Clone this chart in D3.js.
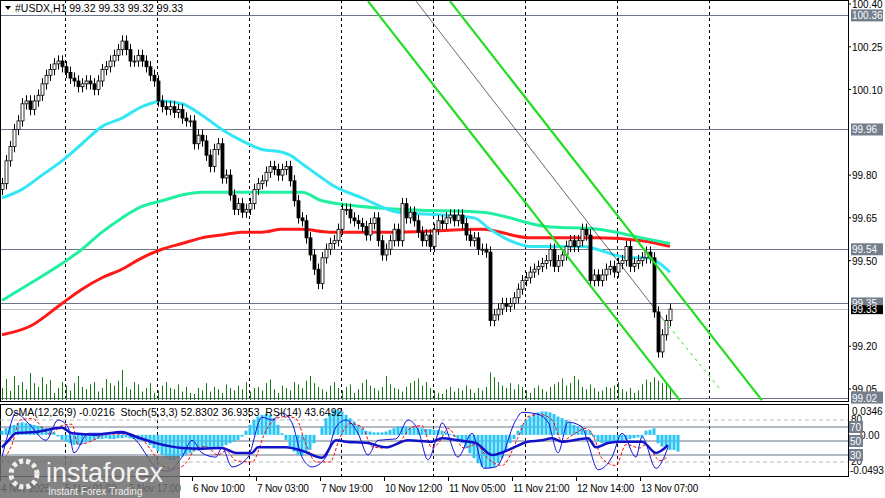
<!DOCTYPE html>
<html><head><meta charset="utf-8">
<script src="https://cdn.jsdelivr.net/npm/d3@7"></script>
<style>
body{margin:0;background:#fff;}
text{font-family:"Liberation Sans",Arial,sans-serif;}
</style></head>
<body><svg id="chart" width="885" height="498"></svg>
<script>
"use strict";

// hourly closes, 4 Nov 09:00 .. 13 Nov 07:00
var closes = [99.77,99.85,99.90,99.96,99.99,100.05,100.06,100.03,100.06,100.08,100.12,100.15,100.17,100.19,100.20,100.18,
  100.16,100.14,100.13,100.11,100.12,100.13,100.12,100.10,100.13,100.17,100.18,100.20,100.22,100.24,100.27,100.24,
  100.20,100.20,100.22,100.20,100.18,100.15,100.13,100.06,100.04,100.03,100.04,100.02,100.03,100.00,99.99,99.99,
  99.91,99.94,99.92,99.87,99.83,99.89,99.91,99.79,99.80,99.73,99.68,99.70,99.67,99.68,99.70,99.75,
  99.77,99.78,99.81,99.83,99.82,99.80,99.82,99.83,99.78,99.71,99.65,99.64,99.58,99.52,99.47,99.42,
  99.51,99.54,99.56,99.57,99.61,99.68,99.68,99.65,99.64,99.63,99.62,99.59,99.63,99.65,99.57,99.52,
  99.54,99.57,99.61,99.57,99.70,99.65,99.67,99.64,99.60,99.57,99.59,99.55,99.61,99.64,99.63,99.65,
  99.66,99.64,99.66,99.63,99.59,99.57,99.58,99.54,99.54,99.53,99.29,99.31,99.33,99.35,99.34,99.35,
  99.37,99.40,99.43,99.44,99.46,99.47,99.48,99.49,99.50,99.54,99.48,99.50,99.52,99.55,99.57,99.55,
  99.57,99.61,99.59,99.43,99.45,99.43,99.45,99.47,99.48,99.46,99.49,99.50,99.55,99.48,99.49,99.50,
  99.51,99.53,99.51,99.32,99.18,99.24,99.29,99.33];

var volumes = [20,35,15,40,25,30,18,45,28,22,38,26,33,12,20,30,24,16,28,40,22,18,26,30,14,20,35,28,24,32,50,22,
  18,30,26,14,20,28,12,16,24,30,20,18,26,14,22,12,10,20,16,28,14,22,18,12,26,20,16,24,18,30,14,20,
  22,16,28,34,18,12,24,20,16,30,26,20,32,40,28,22,18,14,24,30,20,16,22,26,12,18,28,34,24,20,16,22,
  40,26,20,18,14,22,28,32,36,24,30,20,16,12,10,18,22,14,20,16,24,18,12,20,16,22,46,38,30,24,20,28,
  18,26,22,16,12,20,24,18,14,22,26,30,36,24,28,40,34,22,18,26,20,14,16,22,20,24,30,18,14,20,12,16,
  26,34,30,38,32,28,26,22];

// moving averages: [bar, price]
var maFast = [[0,99.72],[5,99.75],[10,99.80],[15,99.85],[20,99.91],[25,99.97],[30,100.00],[35,100.04],[40,100.06],
  [45,100.05],[50,100.01],[55,99.96],[60,99.92],[65,99.89],[70,99.88],[72,99.87],[75,99.84],[80,99.79],[82,99.77],
  [90,99.72],[99,99.67],[110,99.66],[118,99.65],[122,99.61],[127,99.57],[132,99.55],[145,99.55],[157,99.51],[161,99.51],[167,99.46]];
var maMid = [[0,99.36],[7,99.42],[15,99.49],[20,99.54],[25,99.60],[30,99.65],[35,99.69],[40,99.71],[45,99.73],
  [50,99.74],[75,99.74],[80,99.71],[99,99.68],[120,99.67],[136,99.62],[149,99.61],[160,99.58],[167,99.56]];
var maSlow = [[0,99.24],[7,99.27],[15,99.35],[20,99.40],[25,99.44],[30,99.47],[35,99.51],[40,99.54],[45,99.56],
  [50,99.58],[55,99.59],[60,99.60],[65,99.60],[70,99.61],[75,99.61],[82,99.60],[99,99.60],[120,99.61],
  [132,99.58],[149,99.58],[160,99.57],[167,99.55]];

// channel lines: [bar, price] end points
var chanLow = [[91.5,100.41],[169.5,99.01]];
var chanHigh = [[112,100.41],[190,99.01]];
var chanMid = [[103.5,100.41],[165.5,99.29]];
var chanMidExt = [[165.5,99.29],[179.5,99.05]];

var levels = [100.36, 99.96, 99.54, 99.35, 99.02];
var lastPrice = 99.33;
var priceTicks = [100.40, 100.25, 100.10, 99.80, 99.65, 99.50, 99.20, 99.05];

// oscillators (OsMA in 0.001 units per bar; others [half-pixel position, value])
var osma = [5,8,10,12,14,15,14,13,12,11,10,8,6,3,-2,-6,-8,-10,-12,-12,-11,-9,-8,-6,-5,-5,-4,-5,-5,-4,-4,-3,
  -4,-5,-6,-7,-8,-12,-16,-20,-24,-28,-30,-30,-28,-26,-24,-22,-20,-19,-18,-17,-16,-15,-15,-14,-12,-10,-8,-6,-2,5,12,18,
  22,24,25,24,20,12,2,-6,-14,-20,-24,-25,-22,-18,-10,0,10,20,26,30,30,28,24,20,16,12,8,5,4,3,3,3,
  4,6,8,10,10,10,9,9,8,8,7,7,6,6,5,3,1,-2,-6,-10,-16,-22,-28,-34,-38,-40,-40,-38,-34,-28,-20,-10,
  -5,5,12,18,22,25,27,28,28,27,25,22,20,18,15,12,10,8,6,5,-3,-8,-10,-10,-9,-8,-8,-7,-6,-5,-4,-3,
  -3,5,6,8,-10,-14,-16,-18,-18,-20];
var stochMain = [[0,27],[3,60],[7,90],[13,76],[22,51],[28,80],[33,70],[36,33],[43,61],[50,61],[60,61],[67,51],
  [73,27],[78,9],[83,7],[90,27],[95,51],[100,33],[107,27],[110,41],[115,13],[123,27],[130,84],[135,80],[140,90],
  [145,76],[150,27],[155,13],[162,27],[167,70],[172,80],[178,61],[183,30],[188,51],[197,53],[203,80],[208,66],
  [213,23],[218,61],[220,76],[228,27],[235,61],[241,11],[247,13],[257,80],[260,91],[267,89],[273,77],[278,33],
  [283,77],[290,70],[293,47],[298,9],[305,27],[310,61],[317,27],[320,56],[327,11],[333,41]];
var stochSig = [[0,20],[5,45],[9,80],[15,82],[24,60],[30,72],[35,74],[38,45],[45,50],[52,60],[62,60],[69,55],
  [75,35],[80,15],[86,10],[92,18],[97,40],[102,42],[108,30],[112,36],[117,22],[125,20],[132,65],[137,82],[142,85],
  [147,82],[152,45],[157,20],[164,20],[169,55],[174,75],[180,70],[185,42],[190,40],[199,50],[205,70],[210,72],
  [215,40],[219,50],[223,68],[231,40],[237,45],[243,25],[250,15],[258,55],[263,85],[269,88],[275,80],[280,50],
  [286,60],[292,68],[296,55],[300,25],[307,15],[312,45],[319,40],[322,45],[329,22],[333,28]];
var rsi = [[0,41],[3,50],[7,61],[17,63],[30,69],[35,61],[47,59],[60,63],[67,56],[77,47],[90,40],[100,39],
  [110,40],[117,33],[125,33],[128,41],[142,41],[150,36],[160,26],[167,51],[172,49],[183,47],[192,41],[203,51],
  [215,49],[220,54],[228,51],[237,47],[245,30],[253,37],[263,49],[270,51],[275,54],[280,49],[293,54],
  [297,41],[303,47],[310,49],[320,49],[327,33],[333,44]];

var timeLabels = ["4 Nov 2025","5 Nov 01:00","5 Nov 17:00","6 Nov 10:00","7 Nov 03:00","7 Nov 19:00",
  "10 Nov 12:00","11 Nov 05:00","11 Nov 21:00","12 Nov 14:00","13 Nov 07:00"];

var W = 848;
var svg = d3.select("#chart");
var x = d3.scaleLinear().domain([0, 1]).range([2, 6]);
var y = d3.scaleLinear().domain([99.05, 100.40]).range([389, 4]);
var yv = d3.scaleLinear().domain([0, 100]).range([400, 340]);
var yo = d3.scaleLinear().domain([-0.0493, 0.0346]).range([476, 406]);
var ys = d3.scaleLinear().domain([0, 100]).range([476, 406]);

// day separators
[65,157,249,341,433,525,617,709].forEach(function(px) {
    svg.append("line").attr("x1", px + 0.5).attr("x2", px + 0.5).attr("y1", 0).attr("y2", 477)
        .attr("stroke", "#000").attr("stroke-dasharray", "3,3").attr("stroke-width", 1);
});

// horizontal levels
levels.forEach(function(v) {
    svg.append("line").attr("x1", 0).attr("x2", W).attr("y1", Math.round(y(v)) + 0.5).attr("y2", Math.round(y(v)) + 0.5)
        .attr("stroke", "#6b7789").attr("stroke-width", 1);
});
svg.append("line").attr("x1", 0).attr("x2", W).attr("y1", Math.round(y(lastPrice)) + 0.5).attr("y2", Math.round(y(lastPrice)) + 0.5)
    .attr("stroke", "#c0c0c0");

// volumes
svg.append("g").selectAll("line").data(volumes).join("line")
    .attr("x1", function(d, i) { return x(i) + 0.5; }).attr("x2", function(d, i) { return x(i) + 0.5; })
    .attr("y1", 400).attr("y2", function(d) { return yv(d); })
    .attr("stroke", "#187a18").attr("stroke-width", 1);

// moving averages
var maLine = d3.line().x(function(d) { return x(d[0]); }).y(function(d) { return y(d[1]); }).curve(d3.curveMonotoneX);
svg.append("path").attr("d", maLine(maSlow)).attr("fill", "none").attr("stroke", "#ff1a1a").attr("stroke-width", 3);
svg.append("path").attr("d", maLine(maMid)).attr("fill", "none").attr("stroke", "#20f0a0").attr("stroke-width", 3);
svg.append("path").attr("d", maLine(maFast)).attr("fill", "none").attr("stroke", "#33e6f5").attr("stroke-width", 3);

// candles
var candles = closes.map(function(c, i) {
    var o = i === 0 ? c - 0.02 : closes[i - 1];
    return {i: i, o: o, c: c, h: Math.max(o, c) + 0.02, l: Math.min(o, c) - 0.02};
});
var cg = svg.append("g").selectAll("g").data(candles).join("g");
cg.append("line").attr("x1", function(d) { return x(d.i) + 0.5; }).attr("x2", function(d) { return x(d.i) + 0.5; })
    .attr("y1", function(d) { return y(d.h); }).attr("y2", function(d) { return y(d.l); }).attr("stroke", "#000");
cg.append("rect").attr("x", function(d) { return x(d.i) - 1; }).attr("width", 3)
    .attr("y", function(d) { return y(Math.max(d.o, d.c)); })
    .attr("height", function(d) { return Math.max(1, Math.abs(y(d.o) - y(d.c))); })
    .attr("fill", function(d) { return d.c < d.o ? "#000" : "#fff"; }).attr("stroke", "#000").attr("stroke-width", 0.8);

// channel
var chLine = d3.line().x(function(d) { return x(d[0]); }).y(function(d) { return y(d[1]); });
svg.append("path").attr("d", chLine(chanLow)).attr("stroke", "#22dd22").attr("stroke-width", 2.2).attr("fill", "none");
svg.append("path").attr("d", chLine(chanHigh)).attr("stroke", "#22dd22").attr("stroke-width", 2.2).attr("fill", "none");
svg.append("path").attr("d", chLine(chanMid)).attr("stroke", "#000").attr("stroke-width", 0.6).attr("fill", "none");
svg.append("path").attr("d", chLine(chanMidExt)).attr("stroke", "#22dd22").attr("stroke-width", 1).attr("stroke-dasharray", "3,4").attr("fill", "none");

// gap between panels
svg.append("rect").attr("x", 0).attr("y", 401).attr("width", W + 2).attr("height", 4).attr("fill", "#fff");

// panel frames
svg.append("rect").attr("x", 0.5).attr("y", 0.5).attr("width", W).attr("height", 401).attr("fill", "none").attr("stroke", "#000");
svg.append("rect").attr("x", 0.5).attr("y", 404.5).attr("width", W).attr("height", 72).attr("fill", "none").attr("stroke", "#000");

// oscillator panel
[80, 20].forEach(function(v) {
    svg.append("line").attr("x1", 0).attr("x2", W).attr("y1", ys(v)).attr("y2", ys(v)).attr("stroke", "#bbb").attr("stroke-dasharray", "4,3");
});
[70, 50, 30].forEach(function(v) {
    svg.append("line").attr("x1", 0).attr("x2", W).attr("y1", ys(v)).attr("y2", ys(v)).attr("stroke", "#6b7789");
});
svg.append("g").selectAll("rect").data(osma).join("rect")
    .attr("x", function(d, i) { return x(i) - 1.5; }).attr("width", 3)
    .attr("y", function(d) { return Math.min(yo(d / 1000), yo(0)); })
    .attr("height", function(d) { return Math.abs(yo(d / 1000) - yo(0)); })
    .attr("fill", "#29c5f6");
var oLine = d3.line().x(function(d) { return d[0] * 2 + 2; }).y(function(d) { return ys(d[1]); }).curve(d3.curveMonotoneX);
svg.append("path").attr("d", oLine(stochSig)).attr("fill", "none").attr("stroke", "#ff0000").attr("stroke-dasharray", "3,2");
svg.append("path").attr("d", oLine(stochMain)).attr("fill", "none").attr("stroke", "#1010e0").attr("stroke-width", 1);
svg.append("path").attr("d", oLine(rsi)).attr("fill", "none").attr("stroke", "#1212c8").attr("stroke-width", 2.5);

// right axis
var axisG = svg.append("g").attr("font-size", 10);
priceTicks.forEach(function(v) {
    axisG.append("line").attr("x1", W).attr("x2", W + 3).attr("y1", y(v)).attr("y2", y(v)).attr("stroke", "#000");
    axisG.append("text").attr("x", W + 4).attr("y", y(v) + 4).text(v.toFixed(2));
});
levels.forEach(function(v) {
    axisG.append("rect").attr("x", W + 3).attr("y", y(v) - 6).attr("width", 32).attr("height", 12).attr("fill", "#747e8c");
    axisG.append("text").attr("x", W + 4).attr("y", y(v) + 4).attr("fill", "#fff").text(v.toFixed(2));
});
axisG.append("rect").attr("x", W + 3).attr("y", y(lastPrice) - 4).attr("width", 32).attr("height", 9).attr("fill", "#000");
axisG.append("text").attr("x", W + 4).attr("y", y(lastPrice) + 4).attr("fill", "#fff").text(lastPrice.toFixed(2));

axisG.append("text").attr("x", W + 4).attr("y", 415).text("0.0346");
axisG.append("text").attr("x", W + 2).attr("y", 474).text("-0.0493");
[80, 20].forEach(function(v) { axisG.append("text").attr("x", W + 3).attr("y", ys(v) + 3).text(v); });
axisG.append("text").attr("x", W + 12).attr("y", yo(0) + 4).text("0.00");
[70, 50, 30].forEach(function(v) {
    axisG.append("rect").attr("x", W + 1).attr("y", ys(v) - 6).attr("width", 14).attr("height", 12).attr("fill", "#747e8c");
    axisG.append("text").attr("x", W + 2).attr("y", ys(v) + 4).attr("fill", "#fff").text(v);
});

// time axis
timeLabels.forEach(function(t, k) {
    var px = k * 64;
    svg.append("line").attr("x1", px + 0.5).attr("x2", px + 0.5).attr("y1", 477).attr("y2", 481).attr("stroke", "#000");
    svg.append("text").attr("x", px + 1).attr("y", 492).attr("font-size", 10).attr("letter-spacing", -0.2).text(t);
});

// headers
svg.append("path").attr("d", "M5,6 L11,6 L8,10 Z").attr("fill", "#000");
svg.append("text").attr("x", 15).attr("y", 12).attr("font-size", 10.5).text("#USDX,H1  99.32 99.33 99.32 99.33");
svg.append("text").attr("x", 5).attr("y", 416).attr("font-size", 10.5).attr("xml:space", "preserve")
    .text("OsMA(12,26,9) -0.0216  Stoch(5,3,3) 52.8302 36.9353  RSI(14) 43.6492");

// watermark
var wm = svg.append("g");
wm.append("rect").attr("x", 0).attr("y", 456).attr("width", 180).attr("height", 42).attr("fill", "#6f6f6f").attr("opacity", 0.85);
wm.append("circle").attr("cx", 24).attr("cy", 474).attr("r", 13).attr("fill", "none").attr("stroke", "#eee").attr("stroke-width", 5).attr("stroke-dasharray", "4,3");
wm.append("text").attr("x", 46).attr("y", 482).attr("font-size", 27).attr("fill", "#f2f2f2").attr("font-family", "Open Sans").text("instaforex");
wm.append("text").attr("x", 48).attr("y", 495).attr("font-size", 10).attr("fill", "#eee").text("Instant Forex Trading");
</script></body></html>
